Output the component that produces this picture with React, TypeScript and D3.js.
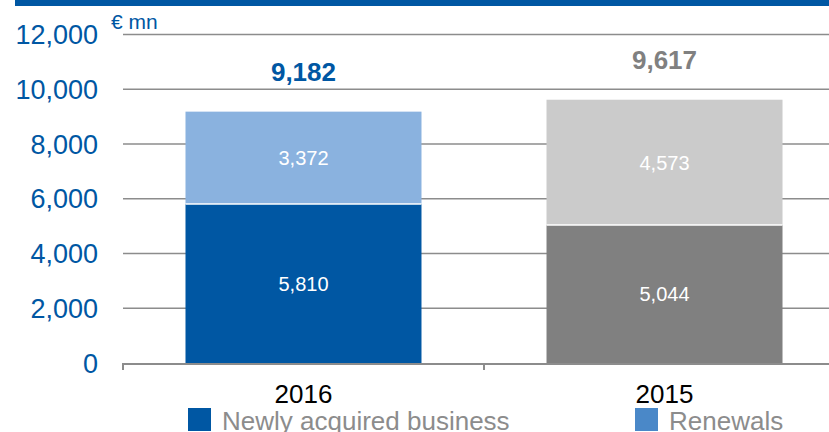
import React from "react";
import * as d3 from "d3";

const categories = ["2016", "2015"];
const newlyAcquired = [5810, 5044];
const renewals = [3372, 4573];
const totals = [9182, 9617];
const yTicks = [0, 2000, 4000, 6000, 8000, 10000, 12000];
const legendLabels = ["Newly acquired business", "Renewals"];

const W = 829;
const H = 432;
const BLUE = "#0057A3";
const FONT = "'Liberation Sans', Arial, sans-serif";

const bottomColors = ["#0057A3", "#808080"];
const topColors = ["#8AB2DF", "#CBCBCB"];
const totalColors = ["#0057A3", "#808080"];
const legendColors = ["#0057A3", "#4A88C8"];

export default function App() {
  const x = d3
    .scaleBand<string>()
    .domain(categories)
    .range([123, 845])
    .paddingInner(0.3463)
    .paddingOuter(0.1731);
  const y = d3.scaleLinear().domain([0, 12000]).range([363, 34.5]);
  const step = x.step();
  const fmt = d3.format(",");

  const boundaries = [0, 1].map((i) => 123 + i * step);

  return (
    <svg
      width={W}
      height={H}
      style={{ position: "absolute", left: 0, top: 0, background: "#fff" }}
      fontFamily={FONT}
    >
      <rect x={15} y={0} width={W - 15} height={6} fill={BLUE} />
      {yTicks.slice(1).map((t) => (
        <line
          key={t}
          x1={123}
          x2={W}
          y1={y(t)}
          y2={y(t)}
          stroke="#8C8C8C"
          strokeWidth={1.5}
        />
      ))}
      {yTicks.map((t) => (
        <text
          key={t}
          x={98}
          y={y(t)}
          dy="0.36em"
          textAnchor="end"
          fontSize={27}
          fill={BLUE}
        >
          {fmt(t)}
        </text>
      ))}
      <text x={111} y={29} fontSize={21} fill={BLUE}>
        € mn
      </text>
      {categories.map((c, i) => {
        const bx = x(c)!;
        const bw = x.bandwidth();
        const cx = bx + bw / 2;
        const y0 = y(0);
        const y1 = y(newlyAcquired[i]);
        const y2 = y(newlyAcquired[i] + renewals[i]);
        return (
          <g key={c}>
            <rect x={bx} y={y1} width={bw} height={y0 - y1} fill={bottomColors[i]} />
            <rect x={bx} y={y2} width={bw} height={y1 - y2} fill={topColors[i]} />
            <line x1={bx} x2={bx + bw} y1={y1} y2={y1} stroke="#fff" strokeWidth={1.5} />
            <text
              x={cx}
              y={(y0 + y1) / 2}
              dy="0.36em"
              textAnchor="middle"
              fontSize={20}
              fill="#fff"
            >
              {fmt(newlyAcquired[i])}
            </text>
            <text
              x={cx}
              y={(y1 + y2) / 2}
              dy="0.36em"
              textAnchor="middle"
              fontSize={20}
              fill="#fff"
            >
              {fmt(renewals[i])}
            </text>
            <text
              x={cx}
              y={y(totals[i]) - 31}
              textAnchor="middle"
              fontSize={26}
              fontWeight="bold"
              fill={totalColors[i]}
            >
              {fmt(totals[i])}
            </text>
            <text x={cx} y={403} textAnchor="middle" fontSize={26} fill="#000">
              {c}
            </text>
          </g>
        );
      })}
      <line x1={123} x2={W} y1={y(0) + 1} y2={y(0) + 1} stroke="#8C8C8C" strokeWidth={2} />
      {boundaries.map((bx, i) => (
        <line
          key={i}
          x1={bx}
          x2={bx}
          y1={y(0)}
          y2={y(0) + 7}
          stroke="#8C8C8C"
          strokeWidth={2}
        />
      ))}
      {legendLabels.map((l, i) => {
        const lx = i === 0 ? 188 : 635;
        return (
          <g key={l}>
            <rect x={lx} y={408} width={23} height={23} fill={legendColors[i]} />
            <text x={lx + 34} y={430} fontSize={26} fill="#8C8C8C">
              {l}
            </text>
          </g>
        );
      })}
    </svg>
  );
}
